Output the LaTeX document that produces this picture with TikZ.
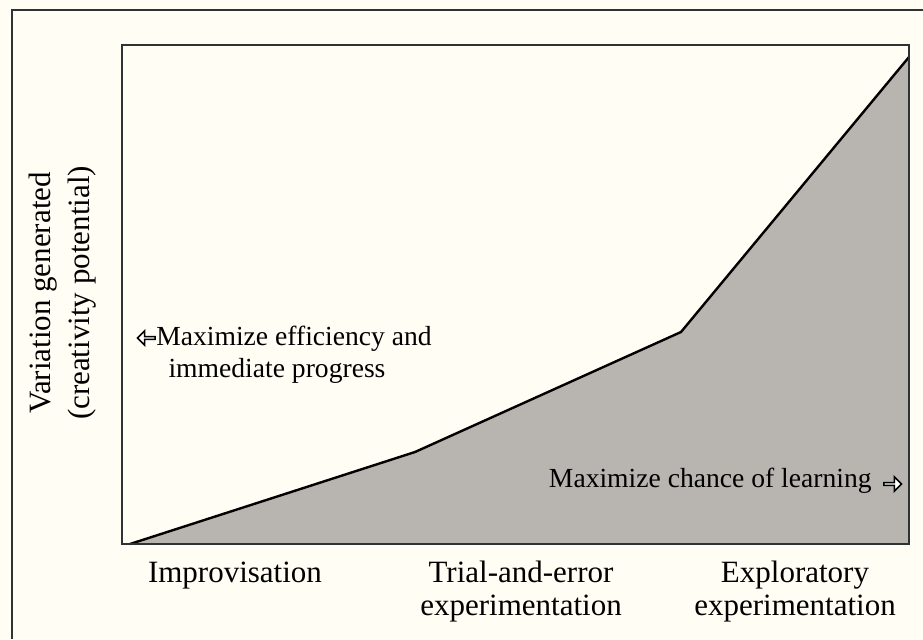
\documentclass[tikz,border=0pt]{standalone}
\usepackage{fontspec}
\setmainfont{Liberation Serif}
\usetikzlibrary{arrows.meta, positioning, shapes.arrows}
\definecolor{PaperCream}{HTML}{FFFDF4}
\definecolor{AreaGray}{HTML}{B8B4B0}
\definecolor{FrameDark}{HTML}{2E3436}
\colorlet{CurveLine}{black}

\begin{document}
\begin{tikzpicture}[
        x=0.5pt, y=-0.5pt,
        frame/.style={draw=FrameDark, line width=1.4pt},
        lbl/.style={font=\fontsize{15.5}{16.5}\selectfont, align=center, inner sep=0pt},
        axislbl/.style={font=\fontsize{15.5}{19.5}\selectfont, align=center, inner sep=0pt},
        hinttext/.style={font=\fontsize{13.8}{16}\selectfont, inner sep=0pt, anchor=base},
        hint/.style={single arrow, draw=black, fill=white, line width=0.8pt,
            minimum height=8.8pt, minimum width=7.2pt, single arrow head extend=1.6pt, inner sep=0pt}
    ]
    
    % Background
    \fill[PaperCream] (0,0) rectangle (923,639);
    \useasboundingbox (0,0) rectangle (923,639);
    
    % Outer frame (runs off the page)
    \draw[frame] (923,10) -- (12,10) -- (12,639);
    
    % Area under the curve
    \coordinate (o) at (130,544);
    \coordinate (k1) at (415,452);
    \coordinate (k2) at (681,332);
    \coordinate (top) at (909,57);
    \fill[AreaGray] (o) -- (k1) -- (k2) -- (top) -- (909,544) -- cycle;
    \draw[CurveLine, line width=1.2pt, line join=round] (o) -- (k1) -- (k2) -- (top);
    
    % Plot box
    \draw[frame] (122,45) rectangle (909,544);
    
    % Axis label
    \node[axislbl, rotate=90] (ylabel) at (63,293) {Variation generated\\(creativity potential)};
    
    % Hints
    \node[hinttext] (effic) at (294,345) {Maximize efficiency and};
    \node[hinttext] (progress) at (277,377) {immediate progress};
    \node[hint, shape border rotate=180] (effarrow) at (147,338) {};
    \node[hinttext, anchor=base east] (learn) at (872,487) {Maximize chance of learning};
    \node[hint] (learnarrow) at (892,484) {};
    
    % Categories
    \node[lbl, anchor=base] (improv) at (235,582) {Improvisation};
    \node[lbl, anchor=base] (trial) at (521,615) {Trial-and-error\\experimentation};
    \node[lbl, anchor=base] (explor) at (795,615) {Exploratory\\experimentation};
    
\end{tikzpicture}
\end{document}
